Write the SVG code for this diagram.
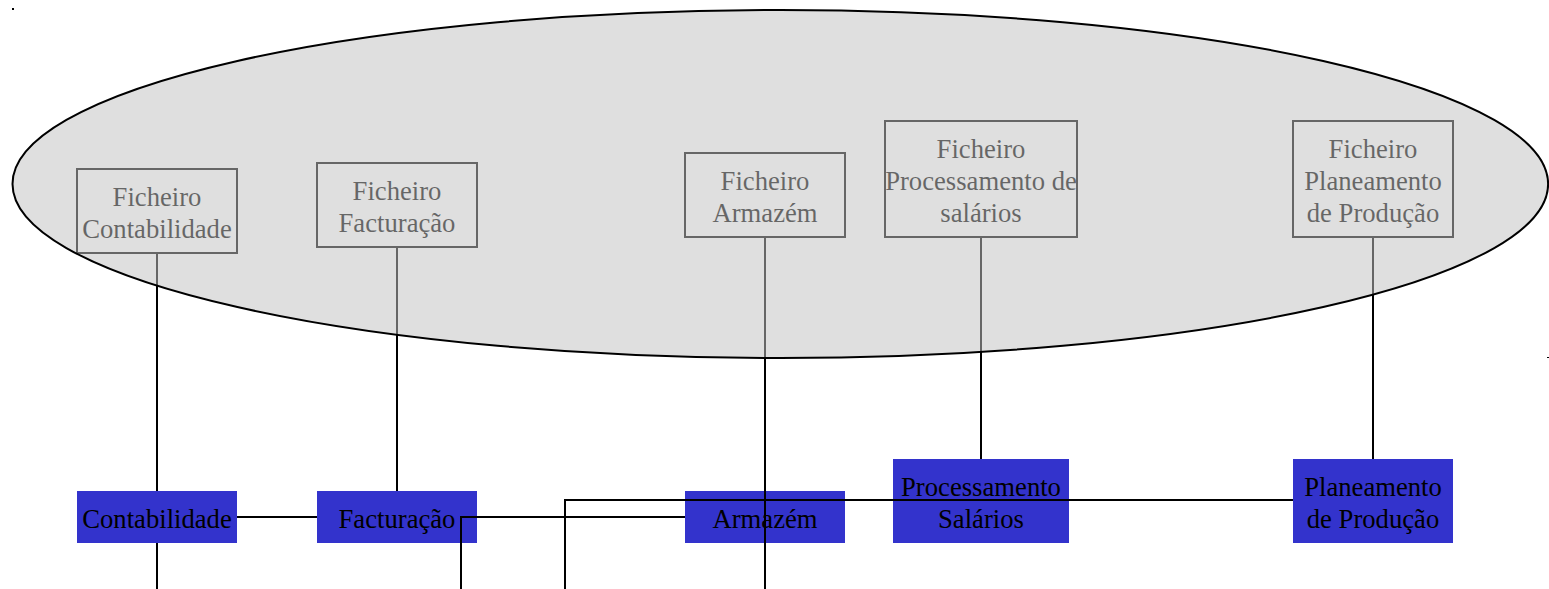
<svg xmlns="http://www.w3.org/2000/svg" width="1549" height="589" viewBox="0 0 1549 589">
<style>
.file rect{fill:none;stroke:#000;stroke-width:2}
.app rect{fill:#3333cc;stroke:none}
text{font-family:"Liberation Serif","Times New Roman",serif;font-size:26.67px;fill:#000;text-anchor:middle}
.conn{fill:none;stroke:#000;stroke-width:2}
</style>
<rect x="0" y="0" width="1549" height="589" fill="#fff"/>
<rect x="12" y="8" width="2" height="2" fill="#000"/>
<rect x="1547" y="357" width="2" height="1" fill="#000"/>
<g id="apps">
<g id="app-contabilidade" class="app"><rect x="77" y="491" width="160" height="52"/><text x="157" y="528">Contabilidade</text></g>
<g id="app-facturacao" class="app"><rect x="317" y="491" width="160" height="52"/><text x="397" y="528">Facturação</text></g>
<g id="app-armazem" class="app"><rect x="685" y="491" width="160" height="52"/><text x="765" y="528">Armazém</text></g>
<g id="app-salarios" class="app"><rect x="893" y="459" width="176" height="84"/><text x="981" y="496">Processamento</text><text x="981" y="528">Salários</text></g>
<g id="app-planeamento" class="app"><rect x="1293" y="459" width="160" height="84"/><text x="1373" y="496">Planeamento</text><text x="1373" y="528">de Produção</text></g>
</g>
<g id="connectors" class="conn">
<path d="M157 253V491M157 543V589"/>
<path d="M397 247V491"/>
<path d="M765 237V589"/>
<path d="M981 237V459"/>
<path d="M1373 237V459"/>
<path d="M237 517H317"/>
<path d="M461 589V517H685"/>
<path d="M565 589V500H1293"/>
</g>
<g id="files">
<g id="file-contabilidade" class="file"><rect x="77" y="169" width="160" height="84"/><text x="157" y="206">Ficheiro</text><text x="157" y="238">Contabilidade</text></g>
<g id="file-facturacao" class="file"><rect x="317" y="163" width="160" height="84"/><text x="397" y="200">Ficheiro</text><text x="397" y="232">Facturação</text></g>
<g id="file-armazem" class="file"><rect x="685" y="153" width="160" height="84"/><text x="765" y="190">Ficheiro</text><text x="765" y="222">Armazém</text></g>
<g id="file-salarios" class="file"><rect x="885" y="121" width="192" height="116"/><text x="981" y="158">Ficheiro</text><text x="981" y="190">Processamento de</text><text x="981" y="222">salários</text></g>
<g id="file-planeamento" class="file"><rect x="1293" y="121" width="160" height="116"/><text x="1373" y="158">Ficheiro</text><text x="1373" y="190">Planeamento</text><text x="1373" y="222">de Produção</text></g>
</g>
<g id="database">
<ellipse cx="780.3" cy="184" rx="767.8" ry="174" fill="#c2c2c2" fill-opacity="0.525" stroke="#000" stroke-width="2"/>
</g>
</svg>
